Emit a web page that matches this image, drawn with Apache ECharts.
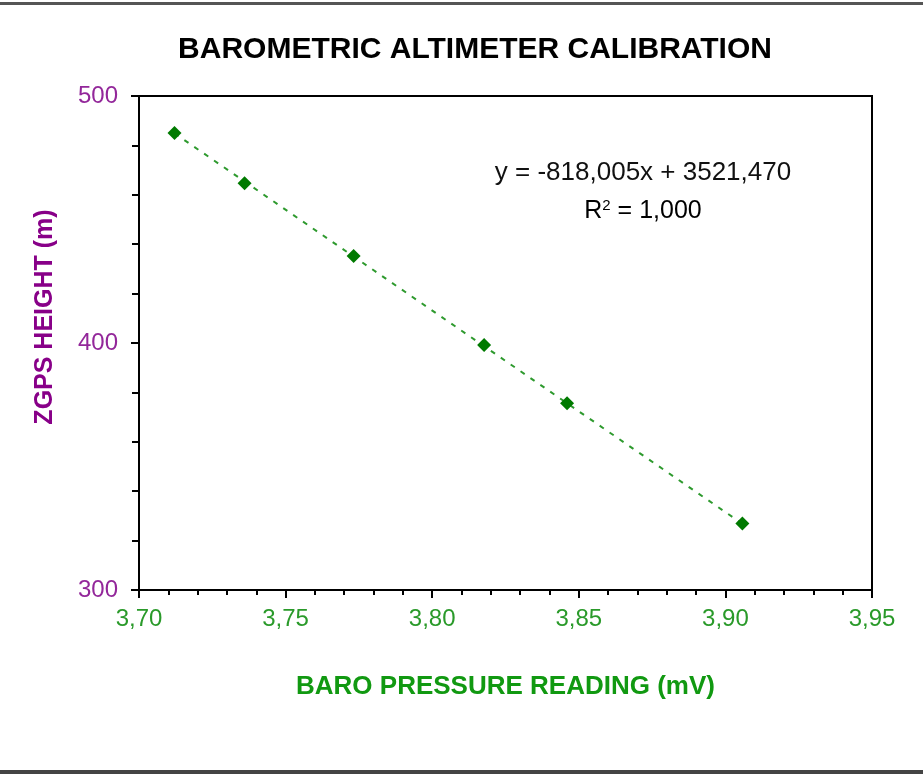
<!DOCTYPE html>
<html>
<head>
<meta charset="utf-8">
<script src="https://cdn.jsdelivr.net/npm/echarts@6/dist/echarts.min.js"></script>
<style>
	html, body { margin: 0; padding: 0; background: #fff; }
	#chart { width: 923px; height: 774px; }
</style>
</head>
<body>
<div id="chart"></div>
<script>
	// readings (mV) and GPS heights (m)
	var baroReading = [3.7121, 3.7360, 3.7732, 3.8177, 3.8460, 3.9058];
	var gpsHeight = [485.0, 464.7, 435.2, 399.2, 375.6, 326.9];
	// trend line ends
	var trendX = [3.7121, 3.9058];
	var trendY = [484.9, 326.8];
	var eqText = 'y = -818,005x + 3521,470';

	var myChart = echarts.init(document.getElementById('chart'));

	function comma(v, d) {
		return v.toFixed(d).replace('.', ',');
	}

	var option = {
		backgroundColor: '#fff',
		animation: false,
		title: {
			text: 'BAROMETRIC ALTIMETER CALIBRATION',
			left: 470,
			top: 30,
			textAlign: 'center',
			textStyle: {
				fontFamily: 'Liberation Sans',
				fontWeight: 'bold',
				fontSize: 30,
				color: '#000'
			}
		},
		grid: {
			left: 139,
			right: 51,
			top: 96,
			bottom: 184,
			show: true,
			borderColor: '#000',
			borderWidth: 2,
			backgroundColor: '#fff'
		},
		xAxis: {
			type: 'value',
			min: 3.70,
			max: 3.95,
			interval: 0.05,
			name: 'BARO PRESSURE READING (mV)',
			nameLocation: 'middle',
			nameGap: 84,
			nameTextStyle: {
				fontFamily: 'Liberation Sans',
				fontWeight: 'bold',
				fontSize: 26,
				color: '#119911'
			},
			axisLine: { show: true, lineStyle: { color: '#000', width: 2 } },
			axisTick: { show: true, length: 8, lineStyle: { color: '#000', width: 2 } },
			minorTick: { show: true, splitNumber: 5, length: 5, lineStyle: { color: '#000', width: 2 } },
			splitLine: { show: false },
			axisLabel: {
				margin: 17,
				fontFamily: 'Liberation Sans',
				fontSize: 24,
				color: '#2a9a2a',
				formatter: function (v) { return comma(v, 2); }
			}
		},
		yAxis: {
			type: 'value',
			min: 300,
			max: 500,
			interval: 100,
			axisLine: { show: true, lineStyle: { color: '#000', width: 2 } },
			axisTick: { show: true, length: 8, lineStyle: { color: '#000', width: 2 } },
			minorTick: { show: true, splitNumber: 5, length: 7, lineStyle: { color: '#000', width: 2 } },
			splitLine: { show: false },
			axisLabel: {
				margin: 21,
				fontFamily: 'Liberation Sans',
				fontSize: 24,
				color: '#93279a'
			}
		},
		graphic: [
			{ type: 'rect', shape: { x: 0, y: 2, width: 923, height: 3 }, style: { fill: '#555' } },
			{ type: 'rect', shape: { x: 0, y: 770, width: 923, height: 4 }, style: { fill: '#444' } },
			{
				type: 'text',
				x: 45, y: 317,
				rotation: Math.PI / 2,
				style: {
					text: 'ZGPS HEIGHT (m)',
					fontFamily: 'Liberation Sans',
					fontWeight: 'bold',
					fontSize: 25,
					fill: '#880088',
					align: 'center',
					verticalAlign: 'middle'
				}
			},
			{
				type: 'text',
				x: 643, y: 173,
				style: {
					text: eqText,
					fontFamily: 'Liberation Sans',
					fontSize: 26,
					fill: '#111',
					align: 'center',
					verticalAlign: 'middle'
				}
			},
			{
				type: 'text',
				x: 643, y: 211,
				style: {
					text: '{a|R}{s|2}{a| = 1,000}',
					align: 'center',
					verticalAlign: 'middle',
					rich: {
						a: { fontFamily: 'Liberation Sans', fontSize: 25, color: '#111' },
						s: { fontFamily: 'Liberation Sans', fontSize: 15, color: '#111', verticalAlign: 'top', padding: [0, 0, 10, 0] }
					}
				}
			}
		],
		series: [
			{
				name: 'trend',
				type: 'line',
				data: trendX.map(function (x, i) { return [x, trendY[i]]; }),
				symbol: 'none',
				lineStyle: { color: '#2e9a2e', width: 2, type: [5, 7] },
				z: 2
			},
			{
				name: 'data',
				type: 'scatter',
				data: baroReading.map(function (x, i) { return [x, gpsHeight[i]]; }),
				symbol: 'diamond',
				symbolSize: 14,
				itemStyle: { color: '#007a00', opacity: 1 },
				z: 3
			}
		]
	};
	myChart.setOption(option);
</script>
</body>
</html>
